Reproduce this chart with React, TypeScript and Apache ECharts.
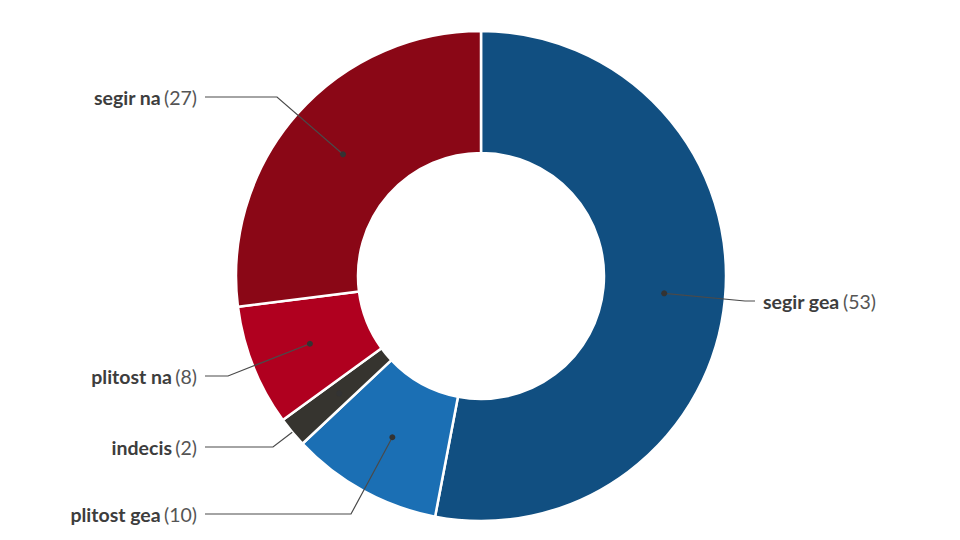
import React, { useEffect, useRef } from "react";
import * as echarts from "echarts";

const categories = ["segir gea", "plitost gea", "indecis", "plitost na", "segir na"];
const values = [53, 10, 2, 8, 27];
const colors = ["#114f81", "#1b6fb4", "#36342f", "#b0001f", "#8a0716"];

// chart geometry (layout, not data)
const CX = 481;
const CY = 276;
const R0 = 123;
const R1 = 245;
const RDOT = (R0 + R1) / 2;
// label anchor: [textX, textY, elbowX, side, lineStartRadius]
const labelAnchors: [number, number, number, "left" | "right", number][] = [
  [763, 301, 745, "right", RDOT],
  [197, 514, 351, "left", RDOT],
  [197, 447, 273, "left", R1],
  [197, 376, 228, "left", RDOT],
  [197, 97, 277, "left", RDOT],
];

function slicePoint(i: number, r: number): [number, number] {
  const total = values.reduce((a, b) => a + b, 0);
  let cum = 0;
  for (let k = 0; k < i; k++) cum += values[k];
  const frac = (cum + values[i] / 2) / total;
  const th = frac * Math.PI * 2;
  return [CX + r * Math.sin(th), CY - r * Math.cos(th)];
}

export default function App() {
  const ref = useRef<HTMLDivElement>(null);
  useEffect(() => {
    if (!ref.current) return;
    const chart = echarts.init(ref.current, undefined, { renderer: "svg" });
    const data = categories.map((name, i) => ({
      name,
      value: values[i],
      itemStyle: { color: colors[i] },
    }));
    const lines = categories.map((_, i) => {
      const [tx, ty, ex, side, rs] = labelAnchors[i];
      const d = slicePoint(i, rs);
      const endX = side === "left" ? tx + 8 : tx - 8;
      return {
        type: "polyline",
        z: 100,
        silent: true,
        shape: { points: [d, [ex, ty], [endX, ty]] },
        style: { stroke: "#4a4a4a", lineWidth: 1.2, fill: null },
      };
    });
    const dots = categories.map((_, i) => {
      const [x, y] = slicePoint(i, RDOT);
      return {
        type: "circle",
        z: 101,
        silent: true,
        shape: { cx: x, cy: y, r: 3 },
        style: { fill: "#333333" },
      };
    });
    chart.setOption({
      animation: false,
      backgroundColor: "#ffffff",
      series: [
        {
          type: "pie",
          center: [CX, CY],
          radius: [R0, R1],
          startAngle: 90,
          clockwise: true,
          avoidLabelOverlap: false,
          itemStyle: { borderColor: "#ffffff", borderWidth: 2.5 },
          label: {
            show: true,
            position: "outside",
            formatter: "{b|{b}} {v|({c})}",
            rich: {
              b: { fontFamily: "Lato", fontWeight: "bold", fontSize: 19.5, color: "#3d3d3d" },
              v: { fontFamily: "Lato", fontWeight: "normal", fontSize: 19.5, color: "#555555" },
            },
          },
          labelLine: { show: false },
          emphasis: { disabled: true },
          labelLayout: (params: any) => {
            const i = params.dataIndex;
            const [tx, ty, , side] = labelAnchors[i];
            return {
              x: tx,
              y: ty,
              align: side === "left" ? "right" : "left",
              verticalAlign: "middle",
            };
          },
          data,
        },
      ],
      graphic: [...lines, ...dots],
    });
    return () => chart.dispose();
  }, []);
  return (
    <div
      ref={ref}
      style={{ position: "fixed", left: 0, top: 0, width: 960, height: 540, background: "#fff" }}
    />
  );
}
